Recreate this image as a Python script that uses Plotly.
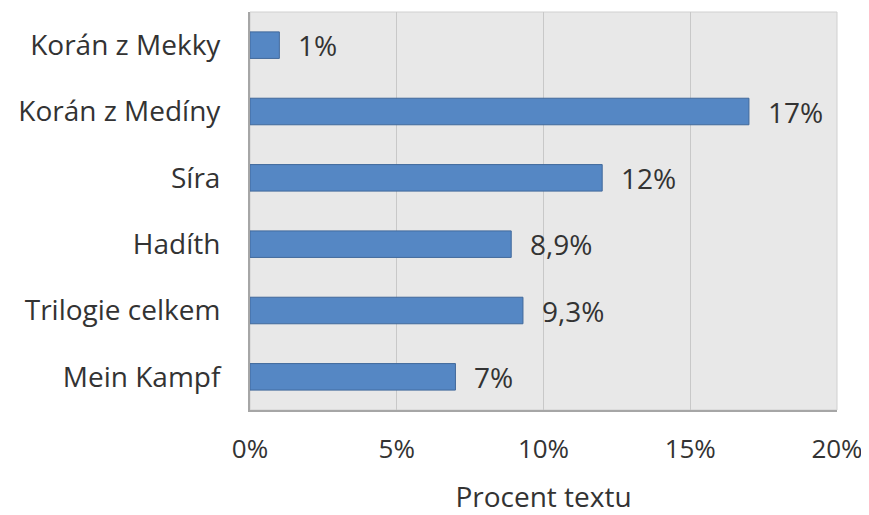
import plotly.graph_objects as go

categories = ["Korán z Mekky", "Korán z Medíny", "Síra", "Hadíth", "Trilogie celkem", "Mein Kampf"]
values = [1, 17, 12, 8.9, 9.3, 7]
labels = ["1%", "17%", "12%", "8,9%", "9,3%", "7%"]
tick_vals = [0, 5, 10, 15, 20]
tick_text = ["0%", "5%", "10%", "15%", "20%"]

FONT = "'Open Sans', sans-serif"
FS = 28
fig = go.Figure()
fig.add_trace(go.Bar(
    y=categories, x=values, orientation="h", width=0.4,
    marker=dict(color="#5587c4", line=dict(color="#41699b", width=1)),
))
for c, v, t in zip(categories, values, labels):
    fig.add_annotation(x=v, y=c, text=t, showarrow=False, xanchor="left",
                       xshift=17, font=dict(size=FS, color="#333333", family=FONT))

fig.update_layout(
    width=861, height=507,
    margin=dict(l=242, r=32, t=4, b=105),
    paper_bgcolor="white", plot_bgcolor="#e8e8e8",
    showlegend=False,
    font=dict(family=FONT, size=FS, color="#333333"),
    xaxis=dict(range=[0, 20], tickvals=tick_vals, ticktext=tick_text,
               showgrid=True, gridcolor="#c8c8c8", gridwidth=1,
               zeroline=False, showline=True, linecolor="#a6a6a6", linewidth=2,
               mirror=False, ticks="outside", ticklen=15, tickcolor="rgba(0,0,0,0)",
               title=dict(text="Procent textu", standoff=26, font=dict(size=FS)),
               tickfont=dict(size=26)),
    yaxis=dict(categoryorder="array", categoryarray=categories[::-1],
               showline=True, linecolor="#a6a6a6", linewidth=2,
               showgrid=False, ticks="outside", ticklen=22, tickcolor="rgba(0,0,0,0)",
               tickfont=dict(size=FS)),
)
fig.add_shape(type="rect", xref="paper", yref="paper", x0=0, y0=0, x1=1, y1=1,
              line=dict(color="#d0d0d0", width=1), layer="below")
fig.write_html("out.html", config={"displayModeBar": False})
